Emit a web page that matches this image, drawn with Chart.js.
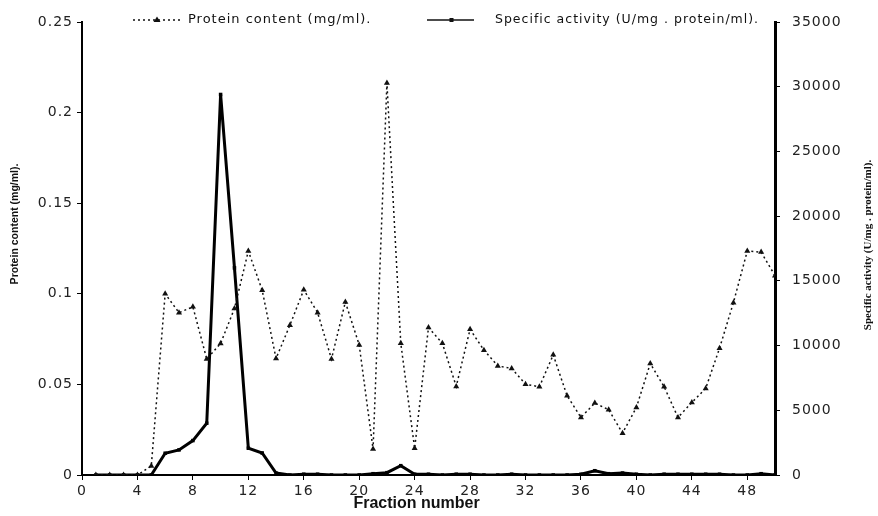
<!DOCTYPE html>
<html>
<head>
<meta charset="utf-8">
<script src="https://cdn.jsdelivr.net/npm/chart.js@4"></script>
<style>
  body { margin: 0; background: #fff; }
  #wrap { width: 878px; height: 516px; position: relative; }
</style>
</head>
<body>
<div id="wrap"><canvas id="fractionChart"></canvas></div>
<script>
// Fraction numbers
const fractions = [1, 2, 3, 4, 5, 6, 7, 8, 9, 10, 11, 12, 13, 14, 15, 16, 17, 18, 19, 20,
  21, 22, 23, 24, 25, 26, 27, 28, 29, 30, 31, 32, 33, 34, 35, 36, 37, 38, 39, 40,
  41, 42, 43, 44, 45, 46, 47, 48, 49, 50];

// Protein content (mg/ml)
const protein = [0, 0, 0, 0, 0.005, 0.1, 0.0896, 0.0928, 0.064, 0.0726,
  0.0919, 0.1236, 0.102, 0.0643, 0.0827, 0.1022, 0.0896, 0.064, 0.0955, 0.0718,
  0.0143, 0.2164, 0.0727, 0.0147, 0.0814, 0.0727, 0.0489, 0.0804, 0.0689, 0.0602,
  0.0588, 0.0501, 0.0487, 0.0663, 0.0437, 0.0318, 0.0397, 0.036, 0.0231, 0.0373,
  0.0615, 0.0487, 0.0318, 0.04, 0.0478, 0.07, 0.0951, 0.1236, 0.123, 0.11];

// Specific activity (U/mg protein/ml)
const activity = [0, 0, 0, 0, 0, 1680, 1940, 2660, 4000, 29400,
  16000, 2070, 1700, 150, 0, 60, 60, 0, 0, 0,
  100, 180, 720, 60, 60, 0, 60, 60, 0, 0,
  60, 0, 0, 0, 0, 60, 330, 100, 150, 60,
  0, 60, 60, 60, 60, 60, 0, 0, 100, 0];

const xTicks = [0, 4, 8, 12, 16, 20, 24, 28, 32, 36, 40, 44, 48];
const proteinLabel = "Protein content (mg/ml).";
const activityLabel = "Specific activity (U/mg . protein/ml).";

const tickFont = { family: "DejaVu Sans", size: 14 };

// Legend and axis titles drawn straight on the canvas
const decorPlugin = {
  id: "decor",
  beforeDraw(chart) {
    chart.ctx.letterSpacing = "1px";
  },
  afterDraw(chart) {
    const ctx = chart.ctx;
    const area = chart.chartArea;
    ctx.save();
    ctx.fillStyle = "#111";
    ctx.strokeStyle = "#111";

    // legend: protein
    ctx.lineWidth = 1.5;
    ctx.setLineDash([2, 3]);
    ctx.beginPath();
    ctx.moveTo(133, 20);
    ctx.lineTo(180, 20);
    ctx.stroke();
    ctx.setLineDash([]);
    ctx.beginPath();
    ctx.moveTo(157, 16.5);
    ctx.lineTo(160.5, 22);
    ctx.lineTo(153.5, 22);
    ctx.closePath();
    ctx.fill();
    ctx.font = "13px 'DejaVu Sans'";
    ctx.textBaseline = "middle";
    ctx.textAlign = "left";
    ctx.fillText(proteinLabel, 188, 20);

    // legend: activity
    ctx.lineWidth = 1.5;
    ctx.beginPath();
    ctx.moveTo(427, 20);
    ctx.lineTo(474, 20);
    ctx.stroke();
    ctx.fillRect(449.5, 18, 4, 4);
    ctx.font = "12.5px 'DejaVu Sans'";
    ctx.fillText(activityLabel, 495, 20);

    // axis titles
    ctx.letterSpacing = "0px";
    ctx.textAlign = "center";
    ctx.font = "bold 10.5px 'Liberation Sans'";
    ctx.save();
    ctx.translate(15, 224);
    ctx.rotate(-Math.PI / 2);
    ctx.fillText("Protein content (mg/ml).", 0, 0);
    ctx.restore();

    ctx.font = "bold 11px 'Liberation Serif'";
    ctx.save();
    ctx.translate(868, 245);
    ctx.rotate(-Math.PI / 2);
    ctx.fillText("Specific activity (U/mg . protein/ml).", 0, 0);
    ctx.restore();

    ctx.font = "bold 16px 'Liberation Sans'";
    ctx.fillText("Fraction number", (area.left + area.right) / 2 - 12, 504);
    ctx.restore();
  },
};

const ctx = document.getElementById("fractionChart").getContext("2d");
const myChart = new Chart(ctx, {
  type: "line",
  data: {
    datasets: [
      {
        label: proteinLabel,
        data: fractions.map((f, i) => ({ x: f, y: protein[i] })),
        yAxisID: "y",
        borderColor: "#111",
        backgroundColor: "#111",
        borderWidth: 1.5,
        borderDash: [2, 3],
        pointStyle: "triangle",
        pointRadius: 3.5,
        pointBorderWidth: 0,
        tension: 0,
        fill: false,
      },
      {
        label: activityLabel,
        data: fractions.map((f, i) => ({ x: f, y: activity[i] })),
        yAxisID: "y1",
        borderColor: "#000",
        backgroundColor: "#000",
        borderWidth: 3,
        pointStyle: "rect",
        pointRadius: 2.5,
        pointBorderWidth: 0,
        tension: 0,
        fill: false,
      },
    ],
  },
  options: {
    responsive: true,
    maintainAspectRatio: false,
    animation: false,
    layout: { padding: { top: 22, right: 0, left: 0, bottom: 0 } },
    scales: {
      x: {
        type: "linear",
        min: 0,
        max: 50,
        afterBuildTicks: scale => {
          scale.ticks = xTicks.map(v => ({ value: v }));
        },
        afterFit: scale => {
          scale.height = 41;
        },
        border: { display: true, color: "#000", width: 2 },
        grid: { drawOnChartArea: false, color: "#000", tickLength: 5 },
        ticks: { color: "#222", font: tickFont, padding: 3, maxRotation: 0 },
      },
      y: {
        position: "left",
        min: 0,
        max: 0.25,
        afterFit: scale => {
          scale.width = 82;
        },
        border: { display: true, color: "#000", width: 2 },
        grid: { drawOnChartArea: false, color: "#000", tickLength: 5 },
        ticks: {
          stepSize: 0.05,
          color: "#222",
          font: tickFont,
          padding: 4,
          callback: value => String(Number(value.toFixed(2))),
        },
      },
      y1: {
        position: "right",
        min: 0,
        max: 35000,
        afterFit: scale => {
          scale.width = 103;
        },
        border: { display: true, color: "#000", width: 3 },
        grid: { drawOnChartArea: false, color: "#000", tickLength: 5 },
        ticks: {
          stepSize: 5000,
          color: "#222",
          font: tickFont,
          padding: 12,
          callback: value => String(value),
        },
      },
    },
    plugins: {
      legend: { display: false },
      tooltip: { enabled: false },
    },
  },
  plugins: [decorPlugin],
});
</script>
</body>
</html>
